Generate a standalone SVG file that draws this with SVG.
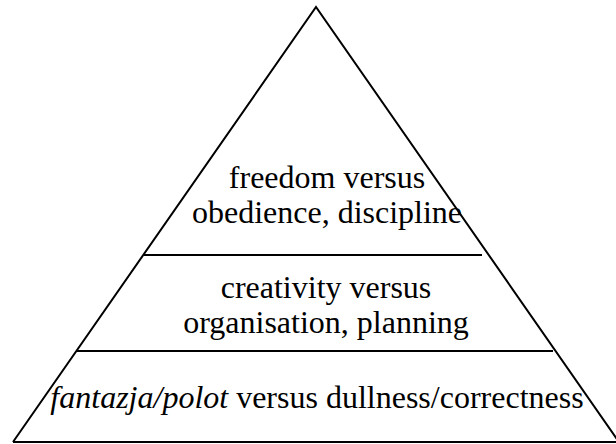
<svg xmlns="http://www.w3.org/2000/svg" width="616" height="444" viewBox="0 0 616 444">
  <style>
    .edge { stroke: #000; stroke-width: 2; fill: none; stroke-linecap: butt; }
    .label { font-family: "Liberation Serif", "Times New Roman", serif; font-size: 32px; fill: #000; text-anchor: middle; }
    .em { font-style: italic; }
  </style>
  <rect x="0" y="0" width="616" height="444" fill="#fff"/>
  <g id="connectors">
    <!-- outer triangle -->
    <polyline class="edge" points="13,442 316,7 619,442"/>
    <line class="edge" x1="13" y1="442" x2="616" y2="442"/>
    <!-- tier dividers -->
    <line class="edge" x1="144" y1="255" x2="482" y2="255"/>
    <line class="edge" x1="76" y1="351" x2="553" y2="351"/>
  </g>
  <g id="tier-top">
    <text class="label" x="327" y="188">freedom versus</text>
    <text class="label" x="327" y="223">obedience, discipline</text>
  </g>
  <g id="tier-middle">
    <text class="label" x="326" y="298">creativity versus</text>
    <text class="label" x="326" y="333">organisation, planning</text>
  </g>
  <g id="tier-bottom">
    <text class="label" x="317" y="408"><tspan class="em">fantazja/polot</tspan> versus dullness/correctness</text>
  </g>
</svg>
